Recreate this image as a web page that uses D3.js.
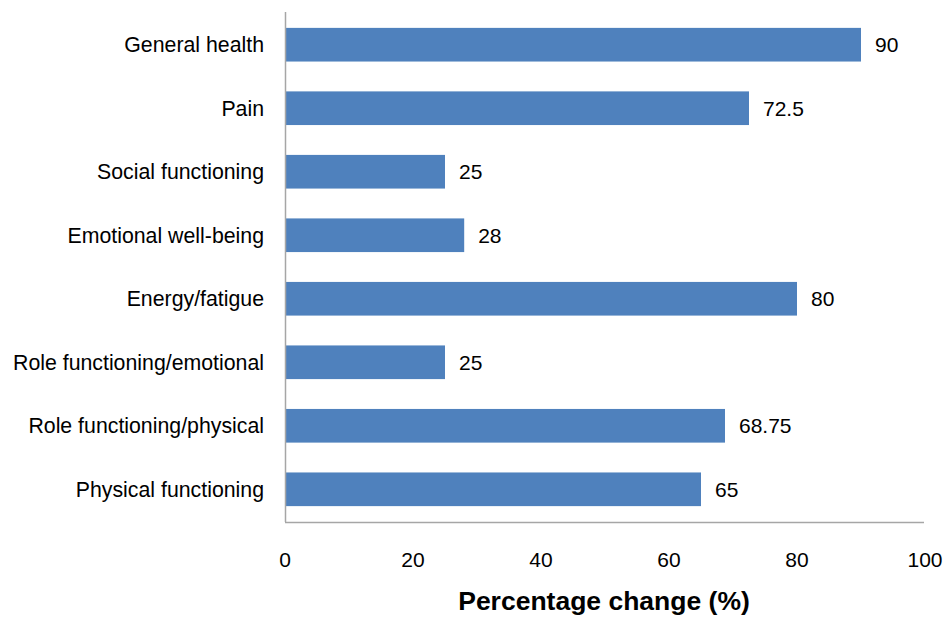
<!DOCTYPE html>
<html><head><meta charset="utf-8">
<script src="https://cdn.jsdelivr.net/npm/d3@7"></script>
<style>body{margin:0;background:#fff}svg{display:block}text{font-family:"Liberation Sans",Arial,sans-serif;fill:#000}</style>
</head><body>
<svg id="c" width="943" height="618"></svg>
<script>
const categories = ["General health","Pain","Social functioning","Emotional well-being","Energy/fatigue","Role functioning/emotional","Role functioning/physical","Physical functioning"];
const values = [90,72.5,25,28,80,25,68.75,65];
const valueLabels = ["90","72.5","25","28","80","25","68.75","65"];
const xTicks = [0,20,40,60,80,100];
const xTitle = "Percentage change (%)";

(function(){
const svg = d3.select("#c");
const mL = 285, mR = 925, mT = 12, mB = 522;
const x = d3.scaleLinear().domain([0,100]).range([mL,mR]);
const y = d3.scaleBand().domain(categories).range([mT,mB]).paddingInner(0.47).paddingOuter(0.25);

svg.selectAll("rect.bar").data(categories).join("rect")
  .attr("x", x(0)).attr("y", d=>y(d)).attr("height", y.bandwidth())
  .attr("width", (d,i)=>x(values[i])-x(0)).attr("fill","#4f81bd");

svg.append("line").attr("x1",mL+0.5).attr("x2",mL+0.5).attr("y1",mT).attr("y2",mB).attr("stroke","#a6a6a6").attr("stroke-width",1.5);
svg.append("line").attr("x1",mL).attr("x2",mR-1).attr("y1",mB+0.5).attr("y2",mB+0.5).attr("stroke","#a6a6a6").attr("stroke-width",1.5);

svg.selectAll("text.cat").data(categories).join("text")
  .attr("x",264).attr("y",d=>y(d)+y.bandwidth()/2).attr("dy","0.36em")
  .attr("text-anchor","end").style("font-size","21.3px").text(d=>d);

svg.selectAll("text.val").data(categories).join("text")
  .attr("x",(d,i)=>x(values[i])+14).attr("y",d=>y(d)+y.bandwidth()/2).attr("dy","0.36em")
  .style("font-size","21px").text((d,i)=>valueLabels[i]);

svg.selectAll("text.tick").data(xTicks).join("text")
  .attr("x",d=>x(d)).attr("y",567)
  .attr("text-anchor","middle")
  .style("font-size","21px").text(d=>d);

svg.append("text").attr("x",604).attr("y",610).attr("text-anchor","middle")
  .style("font-size","26.5px").style("font-weight","bold").text(xTitle);
})();
</script>
</body></html>
